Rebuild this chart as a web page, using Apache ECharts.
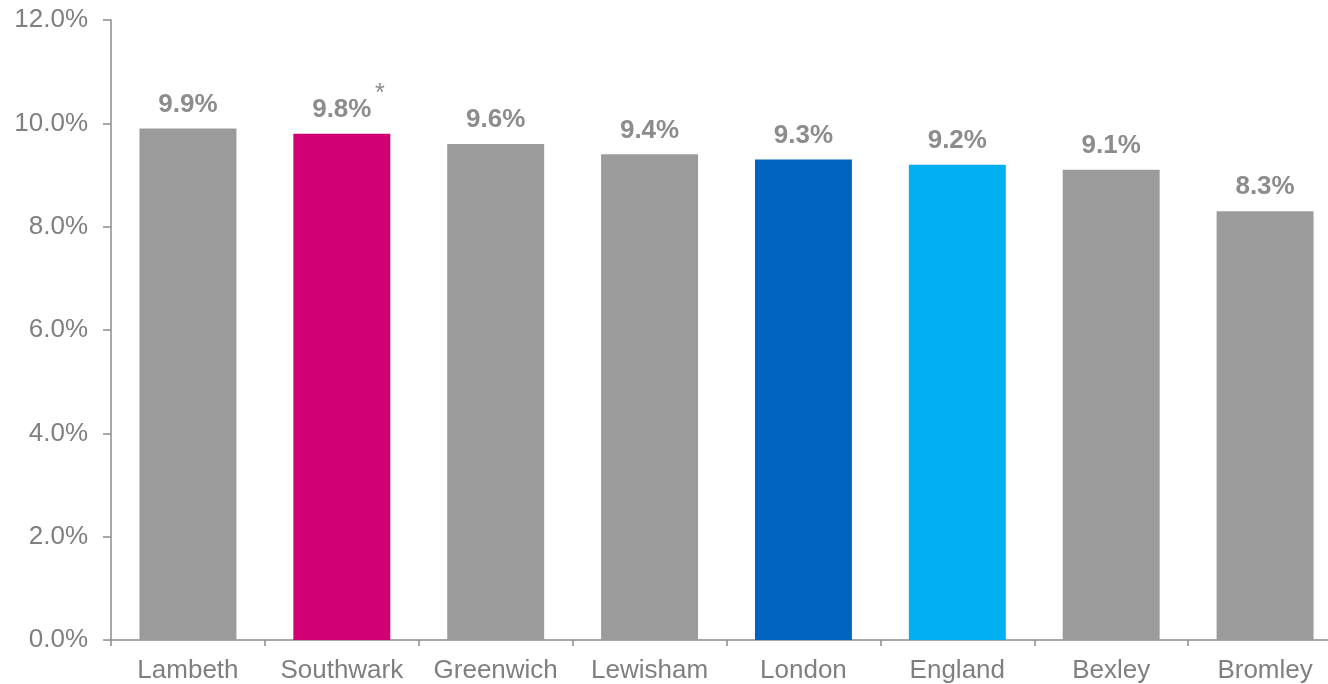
<!DOCTYPE html>
<html><head><meta charset="utf-8">
<script src="https://cdn.jsdelivr.net/npm/echarts@6/dist/echarts.min.js"></script>
<style>html,body{margin:0;padding:0;background:#fff}#c{width:1328px;height:684px}</style>
</head><body><div id="c"></div>
<script>
const categories = ["Lambeth","Southwark","Greenwich","Lewisham","London","England","Bexley","Bromley"];
const values = [9.9, 9.8, 9.6, 9.4, 9.3, 9.2, 9.1, 8.3];
const barColors = ["#9b9b9b","#d10073","#9b9b9b","#9b9b9b","#0063be","#00b0f0","#9b9b9b","#9b9b9b"];
const notes = ["", "*", "", "", "", "", "", ""];
const yTicks = [0, 2, 4, 6, 8, 10, 12];

const FONT = 'Liberation Sans, Arial, sans-serif';
const chart = echarts.init(document.getElementById('c'));
chart.setOption({
  animation: false,
  grid: {left: 111, top: 20, width: 1231, height: 620, containLabel: false, outerBoundsMode: 'none'},
  xAxis: {
    type: 'category', data: categories,
    axisLine: {lineStyle: {color: '#8c8c8c', width: 1.5}},
    axisTick: {show: true, length: 6, lineStyle: {color: '#8c8c8c', width: 1.5}},
    axisLabel: {color: '#7f7f7f', fontSize: 26, fontFamily: FONT, margin: 18, interval: 0}
  },
  yAxis: {
    type: 'value', min: yTicks[0], max: yTicks[yTicks.length - 1], interval: 2,
    axisLine: {show: true, lineStyle: {color: '#8c8c8c', width: 1.5}},
    axisTick: {show: true, length: 8, lineStyle: {color: '#8c8c8c', width: 1.5}},
    splitLine: {show: false},
    axisLabel: {color: '#7f7f7f', fontSize: 26, fontFamily: FONT, margin: 23,
      formatter: v => v.toFixed(1) + '%'}
  },
  series: [{
    type: 'bar', barWidth: '63%',
    data: values.map((v, i) => ({value: v, itemStyle: {color: barColors[i]}})),
    label: {
      show: true, position: 'top', distance: 11,
      color: '#8c8c8c', fontSize: 26, fontWeight: 'bold', fontFamily: FONT,
      formatter: p => p.value.toFixed(1) + '%'
    }
  }, {
    type: 'bar', barWidth: '63%', barGap: '-100%', silent: true,
    data: values.map(v => v),
    itemStyle: {color: 'rgba(0,0,0,0)'},
    label: {
      show: true, position: 'top', distance: 11, offset: [38, -16],
      color: '#8c8c8c', fontSize: 25, fontFamily: FONT,
      formatter: p => notes[p.dataIndex]
    }
  }]
});
</script></body></html>
